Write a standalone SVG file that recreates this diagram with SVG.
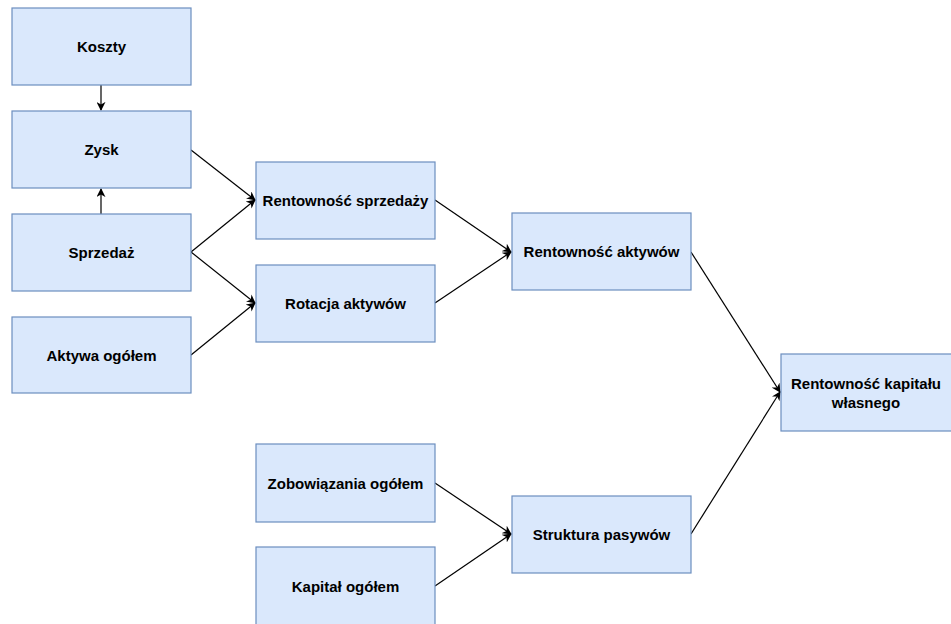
<svg xmlns="http://www.w3.org/2000/svg" width="951" height="624" viewBox="0 0 951 624">
<defs>
<style>
.n rect{fill:#dae8fc;stroke:#6c8ebf;stroke-width:1.2}
.n text{font-family:"Liberation Sans",Arial,sans-serif;font-weight:bold;font-size:15px;fill:#000;text-anchor:middle;dominant-baseline:central}
#edges path{fill:none;stroke:#000;stroke-width:1.2;marker-end:url(#arr)}
</style>
<marker id="arr" viewBox="0 0 10 10" refX="9" refY="5" markerWidth="9" markerHeight="9" markerUnits="userSpaceOnUse" orient="auto">
<path d="M0,0 L10,5 L0,10 L3,5 Z" fill="#000"/>
</marker>
</defs>
<rect width="951" height="624" fill="#fff"/>
<g id="edges">
<path d="M101,85 L101,110"/>
<path d="M101,214 L101,189"/>
<path d="M191,150 L255,200"/>
<path d="M191,252 L255,200"/>
<path d="M191,252 L255,303"/>
<path d="M191,355 L255,303"/>
<path d="M435,200 L511,252"/>
<path d="M435,303 L511,252"/>
<path d="M691,252 L780,392"/>
<path d="M691,534 L780,392"/>
<path d="M435,483 L511,534"/>
<path d="M435,586 L511,534"/>
</g>
<g id="koszty" class="n"><rect x="12" y="8" width="179" height="77"/><text x="101.5" y="46.5">Koszty</text></g>
<g id="zysk" class="n"><rect x="12" y="111" width="179" height="77"/><text x="101.5" y="149.5">Zysk</text></g>
<g id="sprzedaz" class="n"><rect x="12" y="214" width="179" height="77"/><text x="101.5" y="252.5">Sprzedaż</text></g>
<g id="aktywa" class="n"><rect x="12" y="317" width="179" height="76"/><text x="101.5" y="355">Aktywa ogółem</text></g>
<g id="rent_sprzedazy" class="n"><rect x="256" y="162" width="179" height="77"/><text x="345.5" y="200.5">Rentowność sprzedaży</text></g>
<g id="rotacja" class="n"><rect x="256" y="265" width="179" height="77"/><text x="345.5" y="303.5">Rotacja aktywów</text></g>
<g id="rent_aktywow" class="n"><rect x="512" y="213" width="179" height="77"/><text x="601.5" y="251.5">Rentowność aktywów</text></g>
<g id="rent_kapitalu" class="n"><rect x="781" y="354" width="175" height="77"/><text x="866" y="383">Rentowność kapitału</text><text x="866" y="402">własnego</text></g>
<g id="zobowiazania" class="n"><rect x="256" y="444" width="179" height="78"/><text x="345.5" y="483">Zobowiązania ogółem</text></g>
<g id="kapital" class="n"><rect x="256" y="547" width="179" height="80"/><text x="345.5" y="586">Kapitał ogółem</text></g>
<g id="struktura" class="n"><rect x="512" y="496" width="179" height="77"/><text x="601.5" y="534.5">Struktura pasywów</text></g>
</svg>
